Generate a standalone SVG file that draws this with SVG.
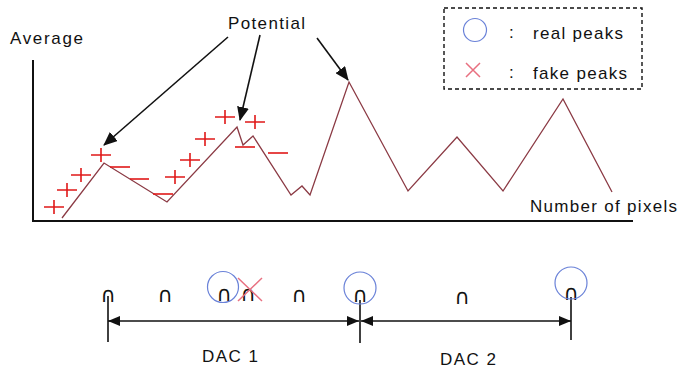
<svg xmlns="http://www.w3.org/2000/svg" width="684" height="369" viewBox="0 0 684 369">
<style>
.t{font-family:"Liberation Sans",Arial,sans-serif;font-size:17px;fill:#111}
.cap{font-family:"DejaVu Sans",sans-serif;font-size:21px;fill:#111}
.ax{stroke:#111;stroke-width:2;fill:none}
.ar{stroke:#111;stroke-width:1.6;fill:none}
.pm{stroke:#e01818;stroke-width:1.6;fill:none}
.rc{stroke:#6a82d8;stroke-width:1.2;fill:none}
.fx{stroke:#e87080;stroke-width:1.5;fill:none}
</style>
<defs>
<marker id="ah" markerUnits="userSpaceOnUse" markerWidth="14" markerHeight="12" refX="13" refY="6" orient="auto">
<path d="M0,0 L14,6 L0,12 Z" fill="#111"/>
</marker>
<marker id="ahs" markerUnits="userSpaceOnUse" markerWidth="12" markerHeight="10" refX="12" refY="5" orient="auto-start-reverse">
<path d="M0,0 L12,5 L0,10 Z" fill="#111"/>
</marker>
</defs>
<g id="axes">
<path class="ax" d="M33,60 V221 H633"/>
<text class="t" x="10" y="44" textLength="73">Average</text>
<text class="t" x="530" y="212" textLength="147">Number of pixels</text>
</g>
<g id="curve">
<polyline fill="none" stroke="#8b3a44" stroke-width="1.3" points="62,218 104,163 167,202 237,127 243,145 253,136 291,195 302,186 310,195 349,82 408,191 457,137 503,191 563,99 612,192"/>
</g>
<g id="signs" class="pm">
<path d="M44,207h20M54,200v14"/>
<path d="M57,190h20M67,183v14"/>
<path d="M71,175h20M81,168v14"/>
<path d="M91,155h20M101,148v14"/>
<path d="M165,177h20M175,170v14"/>
<path d="M180,160h20M190,153v14"/>
<path d="M195,139h20M205,132v14"/>
<path d="M215,117h20M225,110v14"/>
<path d="M245,122h20M255,115v14"/>
<path d="M110,167h20"/>
<path d="M130,179h19"/>
<path d="M153,194h20"/>
<path d="M235,147h20"/>
<path d="M268,153h20"/>
</g>
<g id="potential">
<text class="t" x="228" y="29" textLength="77">Potential</text>
</g>
<g id="connectors">
<line class="ar" x1="228" y1="37" x2="104" y2="145" marker-end="url(#ah)"/>
<line class="ar" x1="260" y1="35" x2="240" y2="120" marker-end="url(#ah)"/>
<line class="ar" x1="317" y1="38" x2="348" y2="80" marker-end="url(#ah)"/>
<line class="ar" x1="108" y1="321" x2="359" y2="321" marker-start="url(#ahs)" marker-end="url(#ahs)"/>
<line class="ar" x1="361" y1="321" x2="571" y2="321" marker-start="url(#ahs)" marker-end="url(#ahs)"/>
</g>
<g id="legend">
<rect x="444" y="8" width="198" height="81" fill="none" stroke="#111" stroke-width="1.4" stroke-dasharray="4,3"/>
<circle class="rc" cx="475" cy="30" r="11.5"/>
<text class="t" x="509" y="38">:</text>
<text class="t" x="533" y="39" textLength="90">real peaks</text>
<path class="fx" d="M466,63 L480,77 M480,63 L466,77"/>
<text class="t" x="509" y="78">:</text>
<text class="t" x="533" y="79" textLength="94">fake peaks</text>
</g>
<g id="ticks" class="ax">
<line x1="108" y1="296" x2="108" y2="342" stroke-width="1.6"/>
<line x1="360" y1="300" x2="360" y2="343" stroke-width="1.6"/>
<line x1="571" y1="297" x2="571" y2="340" stroke-width="1.6"/>
</g>
<g id="peaks">
<text class="cap" x="108" y="302" text-anchor="middle">∩</text>
<text class="cap" x="165" y="302" text-anchor="middle">∩</text>
<text class="cap" x="224" y="301" text-anchor="middle">∩</text>
<text class="cap" x="248" y="301" text-anchor="middle">∩</text>
<text class="cap" x="299" y="302" text-anchor="middle">∩</text>
<text class="cap" x="360" y="302" text-anchor="middle">∩</text>
<text class="cap" x="462" y="304" text-anchor="middle">∩</text>
<text class="cap" x="571" y="300" text-anchor="middle">∩</text>
<circle class="rc" cx="223" cy="287" r="15.5"/>
<circle class="rc" cx="360" cy="288" r="16"/>
<circle class="rc" cx="571" cy="283" r="16"/>
<path class="fx" d="M238,278 L262,301 M262,278 L238,301"/>
</g>
<g id="labels">
<text class="t" x="230" y="362" text-anchor="middle" textLength="56">DAC 1</text>
<text class="t" x="468" y="365" text-anchor="middle" textLength="56">DAC 2</text>
</g>
</svg>
